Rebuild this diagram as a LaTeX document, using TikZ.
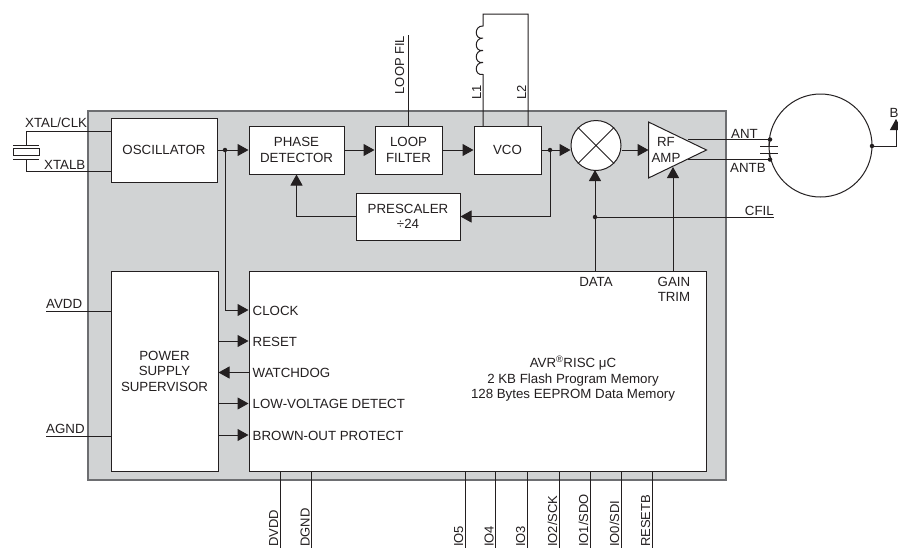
\documentclass[tikz,border=0pt]{standalone}
\usepackage{fontspec}
\setmainfont{Liberation Sans}
\usetikzlibrary{arrows.meta}
\definecolor{ink}{HTML}{231F20}
\definecolor{panel}{HTML}{D1D3D4}
\definecolor{edgegray}{HTML}{6D6E71}
\tikzset{
  x=1pt,y=-1pt,
  wire/.style={draw=ink,line width=1pt},
  sig/.style={wire,-{Triangle[length=11pt,width=12pt]}},
  box/.style={draw=ink,fill=white,line width=1pt,inner sep=0pt,align=center,font=\fontsize{13.3}{15.5}\selectfont,text=ink},
  lbl/.style={inner sep=0pt,text=ink,font=\fontsize{13.3}{15.5}\selectfont},
  vlbl/.style={lbl,font=\fontsize{13}{15.5}\selectfont,rotate=90,anchor=base west},
  dot/.style={circle,fill=ink,inner sep=0pt,minimum size=4.5pt},
}
\begin{document}
\begin{tikzpicture}
\useasboundingbox (0,0) rectangle (898,550);
\fill[white] (0,0) rectangle (898,550);
\node[draw=edgegray,fill=panel,line width=1.4pt,inner sep=0pt,minimum width=638pt,minimum height=369pt] (chip) at (407,295.5) {};

% blocks
\node[box,minimum width=106pt,minimum height=64pt] (osc) at (164,150) {OSCILLATOR};
\node[box,minimum width=95pt,minimum height=48pt] (pd) at (296.5,150) {PHASE\\DETECTOR};
\node[box,minimum width=67pt,minimum height=48pt] (lf) at (408.5,150) {LOOP\\FILTER};
\node[box,minimum width=67pt,minimum height=48pt] (vco) at (507.5,150) {VCO};
\node[box,minimum width=104pt,minimum height=47pt] (pre) at (408,216.5) {PRESCALER\\÷24};
\node[box,minimum width=107pt,minimum height=200pt] (pss) at (164.5,371) {POWER\\SUPPLY\\SUPERVISOR};
\node[draw=ink,fill=white,line width=1pt,inner sep=0pt,minimum width=457pt,minimum height=200pt] (uc) at (477.5,371) {};
\node[draw=ink,fill=white,line width=1pt,circle,inner sep=0pt,minimum size=50pt] (mix) at (596,145.5) {};
\draw[wire] (mix.north west) -- (mix.south east) (mix.north east) -- (mix.south west);
\node[draw=ink,line width=1pt,circle,inner sep=0pt,minimum size=103pt] (loop) at (820.5,145.5) {};
\coordinate (ampA) at (648.5,122);
\coordinate (ampB) at (648.5,178);
\coordinate (ampT) at (706.5,150);
\draw[draw=ink,fill=white,line width=1pt,line join=miter] (ampA) -- (ampT) -- (ampB) -- cycle;
\node[lbl,anchor=center] (rf) at (666,142) {RF};
\node[lbl,anchor=center] (amp) at (666,158) {AMP};

% crystal
\coordinate (xt1) at (26,131);
\coordinate (xt2) at (26,171);
\node[draw=ink,fill=white,line width=1pt,inner sep=0pt,minimum width=26pt,minimum height=7pt] (xtal) at (26,152) {};
\coordinate (pl1) at (26,145);
\coordinate (pl2) at (26,159);
\draw[wire] (osc.west |- xt1) -- (xt1) -- (pl1);
\draw[wire] (osc.west |- xt2) -- (xt2) -- (pl2);
\draw[wire] ([xshift=-13pt]pl1) -- ([xshift=13pt]pl1);
\draw[wire] ([xshift=-13pt]pl2) -- ([xshift=13pt]pl2);
\node[lbl,anchor=base west] (lxtal) at (25,127.5) {XTAL/CLK};
\node[lbl,anchor=base west] (lxtalb) at (44,169) {XTALB};

% main signal chain
\coordinate (osc1) at (225,150);
\coordinate (vco1) at (550,150);
\draw[sig] (osc.east) -- (pd.west);
\draw[sig] (pd.east) -- (lf.west);
\draw[sig] (lf.east) -- (vco.west);
\draw[sig] (vco.east) -- (mix.west |- vco.east);
\draw[sig] (mix.east |- ampT) -- (ampA |- ampT);
\node[dot] (d1) at (osc1) {};
\node[dot] (d2) at (vco1) {};

% prescaler loop
\draw[sig] (d2) |- (pre.east);
\draw[sig] (pre.west) -| (pd.south);

% clock
\coordinate (ck) at (225,310);
\draw[sig] (d1) -- (ck) -- (uc.west |- ck);

% external top pins
\coordinate (lftop) at (408,35);
\draw[wire] (lf.north -| lftop) -- (lftop);
\node[vlbl] (llf) at (404,94.5) {LOOP FIL};
\coordinate (l1) at (483,126);
\coordinate (l2) at (528,126);
\coordinate (ltl) at (483,14);
\coordinate (ltr) at (528,14);
\draw[wire] (l1) -- (483,74.5)
  .. controls (474,76) and (474,62) .. (483,62.5)
  .. controls (474,64) and (474,50) .. (483,50.5)
  .. controls (474,52) and (474,38) .. (483,38)
  .. controls (474,40) and (474,25.5) .. (483,26)
  -- (ltl) -- (ltr) -- (l2);
\node[vlbl] (ll1) at (481,99.5) {L1};
\node[vlbl] (ll2) at (526,99.5) {L2};

% antenna
\coordinate (antS) at (688,139.5);
\coordinate (antbS) at (688,159.5);
\node[dot] (dant) at (770,139.5) {};
\node[dot] (dantb) at (770,159.5) {};
\draw[wire] (antS) -- (dant);
\draw[wire] (antbS) -- (dantb);
\coordinate (cp1) at (769,146);
\coordinate (cp2) at (769,153);
\draw[wire] (dant) -- (cp1) (dantb) -- (cp2);
\draw[wire] ([xshift=-9pt]cp1) -- ([xshift=9pt]cp1);
\draw[wire] ([xshift=-9pt]cp2) -- ([xshift=9pt]cp2);
\node[lbl,anchor=base west] (lant) at (731,138) {ANT};
\node[lbl,anchor=base west] (lantb) at (730,172.5) {ANTB};
\node[dot] (dout) at (872,146) {};
\coordinate (bout) at (896,146);
\coordinate (btip) at (896,119);
\draw[sig] (dout) -- (bout) -- (btip);
\node[lbl,anchor=base] (lb) at (894,117) {B};

% data, gain, cfil
\coordinate (dataS) at (595,271);
\coordinate (gainS) at (673,271);
\coordinate (cfil) at (774,217);
\node[dot] (d3) at (595,217) {};
\draw[sig] (dataS) -- (595,170);
\draw[sig] (gainS) -- (673,167);
\draw[wire] (d3) -- (cfil);
\node[lbl,anchor=base east] (lcfil) at (774,215) {CFIL};
\node[lbl,anchor=base] (ldata) at (596,286) {DATA};
\node[lbl,anchor=base,align=center] (lgain) at (674,286) {GAIN};
\node[lbl,anchor=base,align=center] (ltrim) at (674,301) {TRIM};

% supervisor links
\coordinate (y2) at (0,341);
\coordinate (y3) at (0,372.5);
\coordinate (y4) at (0,403.5);
\coordinate (y5) at (0,435);
\draw[sig] (pss.east |- y2) -- (uc.west |- y2);
\draw[sig] (uc.west |- y3) -- (pss.east |- y3);
\draw[sig] (pss.east |- y4) -- (uc.west |- y4);
\draw[sig] (pss.east |- y5) -- (uc.west |- y5);
\node[lbl,anchor=base west] (tck) at (252.5,315) {CLOCK};
\node[lbl,anchor=base west] (trs) at (252.5,346) {RESET};
\node[lbl,anchor=base west] (twd) at (252.5,377.5) {WATCHDOG};
\node[lbl,anchor=base west] (tlv) at (252.5,408.5) {LOW-VOLTAGE DETECT};
\node[lbl,anchor=base west] (tbo) at (252.5,440) {BROWN-OUT PROTECT};
\node[lbl,align=center,anchor=center] (tuc) at (573,379) {AVR\textsuperscript{®}RISC μC\\2 KB Flash Program Memory\\128 Bytes EEPROM Data Memory};

% power pins
\coordinate (avdd) at (46,311);
\coordinate (agnd) at (46,436);
\draw[wire] (avdd) -- (pss.west |- avdd);
\draw[wire] (agnd) -- (pss.west |- agnd);
\node[lbl,anchor=base west] (lav) at (46,308) {AVDD};
\node[lbl,anchor=base west] (lag) at (46,433) {AGND};

% bottom pins
\foreach \px/\pn in {280/DVDD,311.7/DGND,465/IO5,495.5/IO4,527/IO3,559/IO2\slash SCK,590/IO1\slash SDO,621/IO0\slash SDI,652/RESETB}{
  \draw[wire] (\px,471) -- (\px,548);
  \node[vlbl] at (\px-2,547) {\pn};
}
\end{tikzpicture}
\end{document}
